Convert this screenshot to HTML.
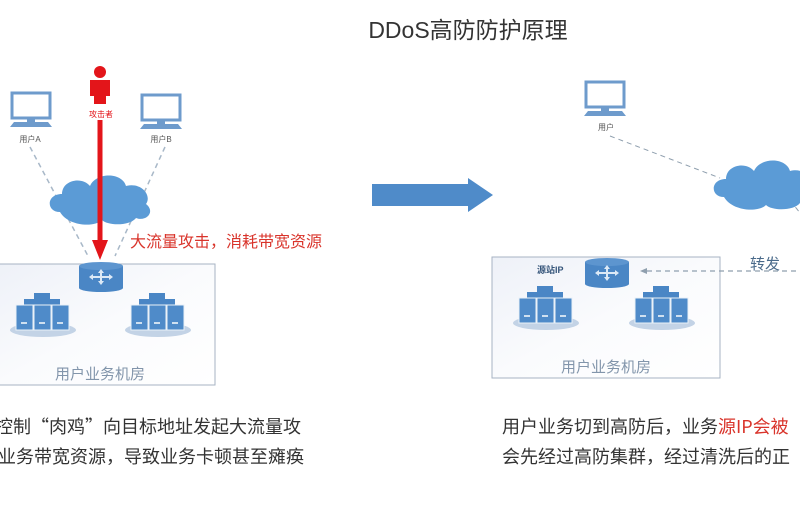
<!DOCTYPE html>
<html><head><meta charset="utf-8"><style>
body{margin:0;width:800px;height:500px;overflow:hidden;background:#fff;font-family:"Liberation Sans","Noto Sans CJK SC",sans-serif;}
</style></head><body>
<svg width="800" height="500" viewBox="0 0 800 500" xmlns="http://www.w3.org/2000/svg" font-family="Liberation Sans, Noto Sans CJK SC, sans-serif">
<defs>
<linearGradient id="bx" x1="0" y1="0" x2="1" y2="1"><stop offset="0" stop-color="#eef1f8"/><stop offset="0.5" stop-color="#fafbfd"/><stop offset="1" stop-color="#ffffff"/></linearGradient>
<g id="srv">
<ellipse cx="0" cy="0" rx="33" ry="7" fill="#c3d3e6"/>
<rect x="-9" y="-37" width="16" height="7" fill="#4a86c5"/>
<rect x="-19" y="-31" width="36" height="7" fill="#4a86c5"/>
<rect x="-27" y="-25" width="17" height="25" fill="#4f8bc9" stroke="#eaf1f8" stroke-width="1"/>
<rect x="-9" y="-25" width="17" height="25" fill="#4f8bc9" stroke="#eaf1f8" stroke-width="1"/>
<rect x="9" y="-25" width="17" height="25" fill="#4f8bc9" stroke="#eaf1f8" stroke-width="1"/>
<rect x="-22" y="-8" width="6" height="2" fill="#cfe0f0"/><rect x="-4" y="-8" width="6" height="2" fill="#cfe0f0"/><rect x="14" y="-8" width="6" height="2" fill="#cfe0f0"/>
</g>
<g id="mon">
<rect x="2" y="0" width="38" height="25" fill="#fff" stroke="#6e9bcc" stroke-width="3"/>
<rect x="17" y="25" width="8" height="4" fill="#6e9bcc"/>
<path d="M4 29 H38 L42 34 H0 Z" fill="#6e9bcc"/>
</g>
<g id="rtr">
<rect x="0" y="4" width="44" height="22" fill="#4a86c5"/>
<ellipse cx="22" cy="4" rx="22" ry="4" fill="#5d95cf"/>
<ellipse cx="22" cy="26" rx="22" ry="4" fill="#4a86c5"/>
<path d="M12 15 H32 M22 9 V21" stroke="#dce9f6" stroke-width="2"/>
<path d="M10 15 l4 -3 v6z M34 15 l-4 -3 v6z M22 7 l-3 4 h6z M22 23 l-3 -4 h6z" fill="#dce9f6"/>
</g>
<g id="cld">
<path d="M8 40 C-6 40 -6 22 10 22 C10 8 30 4 38 14 C44 0 70 0 74 14 C90 10 100 24 94 32 C104 40 94 50 84 46 C78 54 56 54 50 48 C42 56 16 54 8 40 Z" fill="#5b9bd6"/>
</g>
</defs>

<text x="468" y="38" font-size="23" fill="#333" text-anchor="middle">DDoS高防防护原理</text>

<rect x="-2" y="264" width="217" height="121" fill="url(#bx)" stroke="#a7b3c3" stroke-width="1"/>
<line x1="30" y1="147" x2="88" y2="256" stroke="#a8b8c8" stroke-width="1.5" stroke-dasharray="5,4"/>
<line x1="165" y1="147" x2="115" y2="256" stroke="#a8b8c8" stroke-width="1.5" stroke-dasharray="5,4"/>
<use href="#mon" x="10" y="93"/>
<use href="#mon" x="140" y="95"/>
<text x="30" y="142" font-size="8" fill="#555" text-anchor="middle">用户A</text>
<text x="161" y="142" font-size="8" fill="#555" text-anchor="middle">用户B</text>
<use href="#cld" x="52" y="172"/>
<circle cx="100" cy="72" r="6" fill="#e3151a"/>
<path d="M90 80 H110 V96 H106 V104 H94 V96 H90 Z" fill="#e3151a"/>
<text x="101" y="117" font-size="8" fill="#e3151a" text-anchor="middle">攻击者</text>
<rect x="97.5" y="120" width="5" height="122" fill="#e3151a"/>
<path d="M92 240 H108 L100 260 Z" fill="#e3151a"/>
<text x="130" y="247" font-size="16" fill="#d9342b">大流量攻击，消耗带宽资源</text>
<use href="#rtr" x="79" y="262"/>
<use href="#srv" x="43" y="330"/>
<use href="#srv" x="158" y="330"/>
<text x="100" y="379" font-size="15" fill="#8295ab" text-anchor="middle">用户业务机房</text>

<path d="M372 184 H468 V178 L493 195 L468 212 V206 H372 Z" fill="#4f8bc9"/>

<rect x="492" y="257" width="228" height="121" fill="url(#bx)" stroke="#a7b3c3" stroke-width="1"/>
<use href="#mon" x="584" y="82"/>
<text x="606" y="130" font-size="8" fill="#555" text-anchor="middle">用户</text>
<line x1="610" y1="136" x2="720" y2="178" stroke="#8f9fae" stroke-width="1" stroke-dasharray="5,4"/>
<line x1="790" y1="200" x2="800" y2="213" stroke="#8f9fae" stroke-width="1" stroke-dasharray="5,4"/>
<use href="#cld" x="716" y="157"/>
<text x="537" y="273" font-size="9" fill="#35557a" font-weight="bold">源站IP</text>
<use href="#rtr" x="585" y="258"/>
<line x1="647" y1="271" x2="800" y2="271" stroke="#8f9fae" stroke-width="1.2" stroke-dasharray="5,4"/>
<path d="M640 271 L647 268 V274 Z" fill="#8f9fae"/>
<text x="750" y="269" font-size="15" fill="#4a6a8a">转发</text>
<use href="#srv" x="546" y="323"/>
<use href="#srv" x="662" y="323"/>
<text x="606" y="372" font-size="15" fill="#8295ab" text-anchor="middle">用户业务机房</text>

<g font-family="Noto Sans CJK SC, sans-serif" font-size="18">
<text x="-5" y="433" fill="#333">控制“肉鸡”向目标地址发起大流量攻</text>
<text x="-2" y="463" fill="#333">业务带宽资源，导致业务卡顿甚至瘫痪</text>
<text x="502" y="433" fill="#333">用户业务切到高防后，业务<tspan fill="#d9342b">源IP会被</tspan></text>
<text x="502" y="463" fill="#333">会先经过高防集群，经过清洗后的正</text>
</g>
</svg>
</body></html>
